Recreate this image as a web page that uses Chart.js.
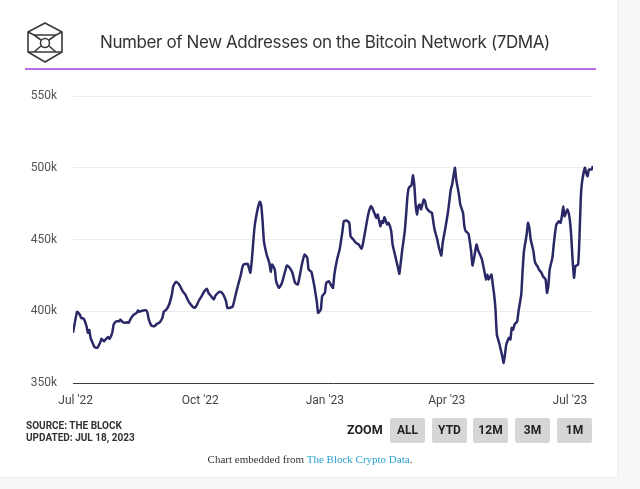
<!DOCTYPE html>
<html>
<head>
<meta charset="utf-8">
<script src="https://cdn.jsdelivr.net/npm/chart.js@4.4.1/dist/chart.umd.min.js"></script>
<style>
  html, body { margin:0; padding:0; width:640px; height:489px; background:#f8f8f8; overflow:hidden; }
  #card { position:absolute; left:0; top:0; width:617px; height:477px; background:#fff; box-shadow: 1px 1px 2px rgba(0,0,0,0.05); }
  #chartWrap { position:absolute; left:0; top:0; width:640px; height:489px; }
  .abs { position:absolute; white-space:nowrap; }
  #title { left:100px; top:31px; font-family:Inter, "Open Sans", sans-serif; font-size:17px; letter-spacing:-0.4px; color:#333; line-height:22px; }
  #rule { left:25px; top:68px; width:571px; height:2px; background:#bb6fe3; }
  #src { left:26px; top:420px; font-family:Roboto, sans-serif; font-weight:700; font-size:10px; color:#333; line-height:12px; }
  #zoomLbl { left:347px; top:422px; font-family:Roboto, sans-serif; font-weight:700; font-size:12.5px; color:#222; line-height:16px; }
  .btn { top:418px; width:35px; height:25px; background:#d6d6d6; border-radius:2px; font-family:Roboto, sans-serif; font-weight:700; font-size:12px; color:#222; line-height:25px; text-align:center; }
  #caption { left:0; width:620px; top:452px; text-align:center; font-family:"Liberation Serif", "DejaVu Serif", serif; font-size:11px; color:#333; line-height:14px; }
  #caption span { color:#2a9fd0; }
</style>
</head>
<body>
<div id="card"></div>
<div id="chartWrap"><canvas id="c" width="640" height="489"></canvas></div>
<svg class="abs" style="left:24px;top:21px" width="42" height="44" viewBox="0 0 42 44">
  <g fill="none" stroke="#3a3a3a" stroke-width="1.6" stroke-linejoin="round">
    <polygon points="21,2 38,11 38,31 21,41 4,31 4,11"/>
    <polyline points="4,11 10,14 32,14 38,11"/>
    <line x1="10" y1="14" x2="17" y2="19"/>
    <line x1="32" y1="14" x2="25" y2="19"/>
    <circle cx="21" cy="22" r="4.5"/>
    <line x1="17" y1="25" x2="10" y2="31"/>
    <line x1="25" y1="25" x2="32" y2="31"/>
    <polyline points="4,31 10,31 32,31 38,31"/>
  </g>
</svg>
<div id="title" class="abs">Number of New Addresses on the Bitcoin Network (7DMA)</div>
<div id="rule" class="abs"></div>
<div id="src" class="abs">SOURCE: THE BLOCK<br>UPDATED: JUL 18, 2023</div>
<div id="zoomLbl" class="abs">ZOOM</div>
<div class="abs btn" style="left:390px">ALL</div>
<div class="abs btn" style="left:432px">YTD</div>
<div class="abs btn" style="left:473px">12M</div>
<div class="abs btn" style="left:515px">3M</div>
<div class="abs btn" style="left:557px">1M</div>
<div id="caption" class="abs">Chart embedded from <span>The Block Crypto Data</span>.</div>
<script>
// Days since 2022-07-01
const dayOffsets = [
  -2, 1, 3, 4, 6, 8, 9, 10, 11, 13, 14, 16, 18, 19, 21, 22, 24, 25, 27, 28,
  30, 32, 33, 34, 36, 38, 39, 41, 43, 45, 46, 47, 48, 50, 52, 53, 54, 56, 58, 60,
  62, 64, 65, 67, 69, 71, 72, 74, 76, 78, 79, 81, 83, 84, 86, 88, 89, 91, 93, 95,
  97, 98, 100, 102, 103, 105, 107, 109, 111, 112, 114, 116, 117, 118, 120, 122, 123, 124, 127, 129,
  130, 132, 134, 136, 137, 138, 139, 141, 143, 144, 145, 147, 148, 150, 152, 153, 155, 156, 158, 160,
  162, 164, 166, 167, 169, 171, 172, 174, 176, 178, 179, 181, 182, 184, 185, 187, 189, 190, 191, 193,
  195, 197, 198, 200, 202, 203, 205, 207, 209, 211, 212, 214, 216, 218, 219, 220, 222, 223, 225, 226,
  227, 228, 230, 231, 233, 234, 236, 238, 239, 240, 241, 243, 244, 245, 246, 248, 249, 250, 251, 252,
  253, 254, 255, 257, 258, 259, 261, 263, 264, 265, 267, 268, 270, 271, 273, 275, 277, 278, 280, 281,
  283, 284, 286, 287, 288, 290, 292, 293, 294, 296, 297, 299, 300, 302, 303, 304, 305, 307, 308, 309,
  310, 311, 313, 315, 316, 317, 318, 320, 321, 322, 323, 324, 326, 327, 329, 330, 331, 333, 334, 335,
  336, 338, 339, 340, 341, 342, 344, 345, 347, 348, 349, 350, 352, 353, 354, 355, 357, 358, 359, 360,
  361, 363, 364, 365, 366, 367, 368, 369, 371, 372, 373, 374, 376, 377, 378, 379, 381, 382
];
// New addresses, thousands (7-day moving average)
const newAddressesK = [
  385, 399.6, 397.7, 395.4, 394.7, 389.5, 385, 387, 381.5, 376.8, 374.9, 374.5, 378, 380.8, 379, 380.3, 382.1, 380.8, 385, 390.7,
  393, 393, 394.2, 393, 391.9, 392.3, 391.9, 395.4, 397.7, 398.9, 400.5, 399.6, 400, 400.5, 400.7, 398.9, 394.2, 390, 389.5, 391.2,
  392.3, 395.4, 399.6, 401.2, 404.7, 411.6, 417.4, 420.5, 419.1, 415.8, 413.9, 411.6, 407.5, 405.9, 403.5, 402.4, 403.5, 407.5, 410.5, 413.9,
  415.6, 412.8, 410.5, 408.2, 410.5, 412.8, 413.5, 411.6, 407, 402.4, 402.4, 403.5, 407, 411.2, 418.6, 425.6, 430.3, 432.6, 433, 426.8,
  434.9, 458.1, 469.7, 476.3, 473.9, 462.8, 448.8, 439.5, 433.7, 427.5, 432.6, 429.1, 420.9, 416.3, 419.1, 422.1, 429.1, 431.9, 430.3, 426.8,
  419.8, 418.6, 427.5, 432.6, 439.5, 437.2, 429.1, 427.5, 418.6, 407, 398.9, 401.2, 410.5, 412.8, 419.8, 420.9, 417.4, 416.3, 425.6, 436,
  443.5, 455.8, 462.8, 463.2, 461.6, 452.3, 450, 447.7, 446.5, 443.5, 446.5, 457, 467.4, 473.2, 472.1, 469.7, 465.1, 467.4, 459.3, 462.8,
  461.6, 465.5, 460.5, 461.6, 455.8, 446.5, 438.4, 430.3, 426.1, 433.7, 441.8, 455.8, 467.4, 480.2, 486, 487.9, 494.8, 488.4, 474.4, 467.4,
  473.2, 474.4, 471, 477.9, 476.7, 472.1, 469.7, 468.6, 462.8, 457, 450, 445.3, 438.8, 447.7, 458.2, 469.7, 484.9, 488.4, 500, 491.8,
  481.4, 474.4, 468.6, 459.3, 455.8, 454.2, 441.8, 431.9, 436.1, 446.5, 443, 438.4, 436.1, 426.8, 422.1, 425.6, 422.1, 425.6, 418.6, 411.6,
  401.2, 383.8, 376.8, 368.6, 364, 370, 377, 381.5, 380.3, 388.4, 387.2, 390.7, 393, 400, 411.6, 427.9, 441.8, 453.5, 461.6, 458.1,
  450, 441.8, 434.9, 432.6, 431.4, 429.1, 426.8, 424.4, 422.1, 412.8, 417.4, 429.1, 437.2, 446.5, 454.7, 460.5, 462.8, 461.6, 466.2, 473.2,
  466.2, 470.9, 468.6, 462.8, 451.2, 434.9, 423.3, 431.4, 432.6, 451.2, 479.1, 490.7, 500, 496.5, 494.1, 498.8, 498.8, 501.2
];
const tickDays = [0, 92, 184, 274, 365];
const tickLabels = ["Jul '22", "Oct '22", "Jan '23", "Apr '23", "Jul '23"];
const yTicksK = [350, 400, 450, 500, 550];

const points = dayOffsets.map((d, i) => ({ x: d, y: newAddressesK[i] }));

new Chart(document.getElementById('c'), {
  type: 'line',
  data: { datasets: [{
    data: points,
    borderColor: '#2a2866',
    borderWidth: 2.5,
    pointRadius: 0,
    tension: 0.15,
    fill: false
  }]},
  options: {
    responsive: false,
    animation: false,
    events: [],
    layout: { padding: { left: 0, right: 47, top: 96, bottom: 76 } },
    plugins: { legend: { display: false }, tooltip: { enabled: false } },
    scales: {
      x: {
        type: 'linear',
        min: -2, max: 382,
        afterBuildTicks: s => { s.ticks = tickDays.map(v => ({ value: v })); },
        afterFit: s => { s.height = 30; },
        grid: { display: false, drawTicks: false },
        border: { display: true, color: '#3a3a3a', width: 1 },
        ticks: {
          padding: 11,
          color: '#444',
          font: { family: 'Roboto, sans-serif', size: 12 },
          maxRotation: 0,
          autoSkip: false,
          callback: v => { const i = tickDays.indexOf(v); return i >= 0 ? tickLabels[i] : ''; }
        }
      },
      y: {
        min: 350, max: 550,
        afterBuildTicks: s => { s.ticks = yTicksK.map(v => ({ value: v })); },
        afterFit: s => { s.width = 73; },
        grid: {
          drawTicks: false,
          color: c => (c.tick && c.tick.value === 350) ? 'rgba(0,0,0,0)' : '#ececec',
          lineWidth: 1
        },
        border: { display: false },
        ticks: {
          padding: 16,
          color: '#555',
          font: { family: 'Roboto, sans-serif', size: 12 },
          callback: v => v + 'k'
        }
      }
    }
  }
});
</script>
</body>
</html>
